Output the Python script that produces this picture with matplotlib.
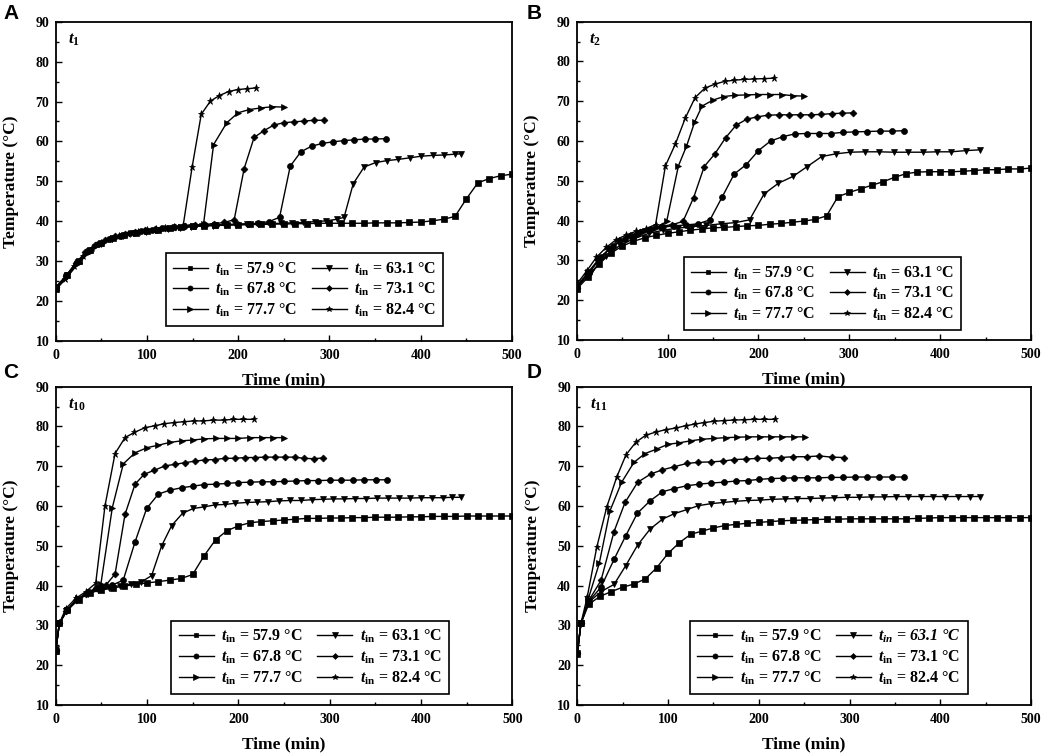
import numpy as np
import matplotlib.pyplot as plt

plt.rcParams['font.family'] = ['Liberation Serif', 'DejaVu Serif']
plt.rcParams['font.weight'] = 'bold'
plt.rcParams['axes.labelweight'] = 'bold'
plt.rcParams['mathtext.fontset'] = 'custom'
plt.rcParams['mathtext.rm'] = 'Liberation Serif:bold'
plt.rcParams['mathtext.bf'] = 'Liberation Serif:bold'
plt.rcParams['mathtext.it'] = 'Liberation Serif:italic:bold'

inlet_temps = [57.9, 63.1, 67.8, 73.1, 77.7, 82.4]
markers = ['s', 'v', 'o', 'D', '>', '*']
panel_letters = ['A', 'B', 'C', 'D']
point_names = ['1', '2', '10', '11']

time_125 = [0, 12.5, 25, 37.5, 50, 62.5, 75, 87.5, 100, 112.5, 125, 137.5, 150, 162.5,
            175, 187.5, 200, 212.5, 225, 237.5, 250, 262.5, 275, 287.5, 300, 312.5, 325,
            337.5, 350, 362.5, 375, 387.5, 400, 412.5, 425, 437.5, 450, 462.5, 475, 487.5, 500]
time_125_early = [0, 4, 12.5, 25, 37.5, 50, 62.5, 75, 87.5, 100, 112.5, 125, 137.5, 150, 162.5,
                  175, 187.5, 200, 212.5, 225, 237.5, 250, 262.5, 275, 287.5, 300, 312.5, 325,
                  337.5, 350, 362.5, 375, 387.5, 400, 412.5, 425, 437.5, 450, 462.5, 475, 487.5, 500]

# ---- A : t1 ----
a_time_579 = time_125
a_temp_579 = [23, 26.5, 30, 32.8, 34.6, 35.8, 36.5, 37.0, 37.5, 37.9, 38.2, 38.5, 38.7, 38.9,
              39.0, 39.1, 39.1, 39.2, 39.2, 39.3, 39.3, 39.4, 39.4, 39.5, 39.5, 39.5, 39.5, 39.5,
              39.6, 39.6, 39.6, 39.7, 39.8, 40.1, 40.5, 41.2, 45.6, 49.6, 50.7, 51.4, 51.8]
a_time_631 = [0, 12.3, 24.7, 37, 49.3, 61.7, 74, 86.3, 98.7, 111, 123.3, 135.7, 148, 160.3,
              172.7, 185, 197.3, 209.7, 222, 234.3, 246.7, 259, 271.3, 283.7, 296, 308.3, 316,
              326, 338, 350.5, 363, 375.5, 388, 400.5, 413, 425, 437, 444]
a_temp_631 = [23.2, 26.3, 29.8, 32.6, 34.4, 35.6, 36.4, 37.0, 37.4, 37.8, 38.1, 38.4, 38.6, 38.8,
              38.9, 39.0, 39.1, 39.2, 39.3, 39.4, 39.5, 39.6, 39.7, 39.9, 40.1, 40.5, 41.0,
              49.4, 53.6, 54.7, 55.2, 55.5, 55.9, 56.3, 56.5, 56.6, 56.8, 56.9]
a_time_678 = [0, 11.7, 23.4, 35, 46.7, 58.4, 70.1, 81.8, 93.4, 105.1, 116.8, 128.5, 140.2, 151.8,
              163.5, 175.2, 186.9, 198.6, 210.2, 221.9, 233.6, 245.3, 257, 268.6, 280.3, 292,
              303.7, 315.4, 327, 338.7, 350.4, 362]
a_temp_678 = [23.3, 26.5, 29.8, 32.5, 34.4, 35.6, 36.4, 37.0, 37.5, 37.9, 38.2, 38.5, 38.7, 38.9,
              39.0, 39.1, 39.2, 39.3, 39.4, 39.5, 39.9, 41.0, 53.8, 57.4, 58.8, 59.5, 59.9, 60.2,
              60.4, 60.6, 60.6, 60.7]
a_time_731 = [0, 10.9, 21.7, 32.6, 43.5, 54.4, 65.2, 76.1, 87, 97.8, 108.7, 119.6, 130.4, 141.3,
              152.2, 163, 173.9, 184.8, 195.6, 206.5, 217.4, 228.2, 239.1, 250, 260.9, 271.7,
              282.6, 293.5]
a_temp_731 = [23.5, 26.2, 29.5, 32.2, 34.0, 35.3, 36.2, 36.9, 37.4, 37.8, 38.1, 38.4, 38.6, 38.8,
              39.0, 39.2, 39.4, 39.7, 40.4, 53.2, 61.0, 62.7, 64.1, 64.7, 64.9, 65.1, 65.3, 65.3]
a_time_777 = [0, 12.5, 25, 37.5, 50, 62.5, 75, 87.5, 100, 112.5, 125, 137.5, 150, 162, 173,
              187.5, 200, 212.5, 225, 237.5, 250]
a_temp_777 = [22.8, 26.0, 29.5, 32.3, 34.2, 35.5, 36.4, 37.0, 37.5, 37.9, 38.3, 38.6, 38.8, 39.3,
              59.2, 64.7, 67.2, 68.0, 68.4, 68.7, 68.6]
a_time_824 = [0, 10, 19.9, 29.9, 39.9, 49.8, 59.8, 69.8, 79.7, 89.7, 99.7, 109.7, 119.6, 129.6,
              139.6, 149.5, 159.5, 169.5, 179.4, 189.4, 199.4, 209.3, 219.3]
a_temp_824 = [23, 25.5, 28.8, 31.3, 33.2, 34.6, 35.6, 36.3, 36.9, 37.3, 37.7, 38.0, 38.3, 38.5,
              38.8, 53.6, 66.8, 70.1, 71.5, 72.5, 73.0, 73.2, 73.4]

# ---- B : t2 ----
b_time_579 = time_125
b_temp_579 = [22.8, 25.8, 29.2, 31.8, 33.6, 34.8, 35.7, 36.3, 36.8, 37.2, 37.6, 37.9, 38.2, 38.3,
              38.5, 38.7, 38.8, 39.1, 39.3, 39.6, 39.9, 40.3, 41.2, 46.0, 47.1, 48.0, 48.9, 49.8,
              50.9, 51.8, 52.2, 52.3, 52.3, 52.3, 52.4, 52.6, 52.8, 52.8, 53.0, 53.0, 53.2]
b_time_631 = [0, 15.9, 31.7, 47.6, 63.4, 79.3, 95.2, 111, 126.9, 142.7, 158.6, 174.5, 190.3,
              206.2, 222, 237.9, 253.8, 269.6, 285.5, 301.3, 317.2, 333, 348.9, 364.8, 380.6,
              396.5, 412.3, 428.2, 444]
b_temp_631 = [23.5, 27.0, 31.0, 33.8, 35.5, 36.8, 37.6, 38.1, 38.5, 38.8, 39.2, 39.5, 40.2, 46.7,
              49.4, 51.1, 53.6, 56.1, 56.8, 57.2, 57.3, 57.3, 57.2, 57.2, 57.2, 57.3, 57.3, 57.6, 57.8]
b_time_678 = [0, 13.3, 26.7, 40, 53.3, 66.7, 80, 93.3, 106.7, 120, 133.3, 146.7, 160, 173.3,
              186.7, 200, 213.3, 226.7, 240, 253.3, 266.7, 280, 293.3, 306.7, 320, 333.3, 346.7, 360]
b_temp_678 = [23, 26.8, 30.8, 33.6, 35.4, 36.7, 37.6, 38.3, 38.7, 38.9, 39.2, 40.2, 45.9, 51.7,
              54.1, 57.6, 60.0, 61.1, 61.8, 61.9, 61.9, 61.9, 62.2, 62.3, 62.4, 62.5, 62.5, 62.6]
b_time_731 = [0, 11.7, 23.4, 35.1, 46.8, 58.5, 70.2, 81.9, 93.6, 105.3, 117, 128.7, 140.4, 152.1,
              163.8, 175.5, 187.2, 198.9, 210.6, 222.3, 234, 245.7, 257.4, 269.1, 280.8, 292.5, 304.2]
b_temp_731 = [23, 26.5, 30.0, 32.8, 34.8, 36.2, 37.2, 38.0, 38.6, 39.0, 39.8, 45.8, 53.6, 56.8,
              60.8, 64.0, 65.5, 66.1, 66.5, 66.6, 66.6, 66.6, 66.6, 66.7, 66.9, 67.0, 67.1]
b_time_777 = [0, 12.5, 25, 37.5, 50, 62.5, 75, 87.5, 99, 112, 121, 130, 138, 150, 162, 174,
              187, 199.6, 212.8, 225.6, 237.7, 250]
b_temp_777 = [23.5, 27, 30.5, 33.2, 35.2, 36.5, 37.4, 38.2, 39.8, 53.8, 58.8, 64.9, 68.8, 70.3,
              71.2, 71.5, 71.6, 71.7, 71.7, 71.7, 71.4, 71.3]
b_time_824 = [0, 10.85, 21.7, 32.6, 43.4, 54.3, 65.1, 76, 86.8, 97.7, 108.5, 119.4, 130.2, 141.1,
              151.9, 162.8, 173.6, 184.5, 195.3, 206.2, 217]
b_temp_824 = [24, 27.3, 30.8, 33.3, 35.2, 36.4, 37.3, 38.0, 39.0, 53.8, 59.2, 65.7, 70.9, 73.3,
              74.3, 75.0, 75.3, 75.5, 75.6, 75.7, 75.8]

# ---- C : t10 ----
c_time_579 = time_125_early
c_temp_579 = [23.5, 30.5, 33.8, 36.5, 38.2, 38.9, 39.4, 39.9, 40.3, 40.7, 41.0, 41.4, 41.8, 42.8,
              47.5, 51.5, 53.8, 55.0, 55.8, 56.1, 56.3, 56.5, 56.7, 56.9, 56.9, 57.0, 57.0, 57.1,
              57.1, 57.2, 57.2, 57.2, 57.3, 57.3, 57.4, 57.4, 57.4, 57.5, 57.5, 57.5, 57.5, 57.5]
c_time_631 = [0, 4, 11.7, 23.3, 35, 46.7, 58.5, 70, 82, 93.4, 105, 116, 127, 139, 150.7, 162.8,
              174.5, 185.4, 196.4, 209, 220, 232.8, 244.5, 256.6, 268.6, 280.3, 292.3, 304, 316,
              328, 340, 352, 364, 376, 388, 400, 412, 424, 434, 443.8]
c_temp_631 = [24, 30.5, 33.5, 36.3, 38, 38.9, 39.5, 40, 40.4, 40.9, 42.5, 50.0, 55.1, 58.2, 59.4,
              59.8, 60.3, 60.4, 60.7, 60.9, 61.0, 61.1, 61.3, 61.4, 61.4, 61.6, 61.7, 61.8, 61.8,
              61.9, 61.9, 62.0, 62.0, 62.0, 62.0, 62.1, 62.1, 62.1, 62.2, 62.2]
c_time_678 = [0, 4, 12.3, 24.6, 37, 49.3, 61.6, 74, 86.9, 99.6, 112.4, 125, 138, 150, 162.8,
              175.5, 188, 200, 212.8, 225.5, 238.3, 250.4, 262.8, 275, 287.6, 300.4, 312.4, 325.2,
              337.6, 350.4, 362.4]
c_temp_678 = [23.5, 30.5, 33.8, 36.6, 38.3, 39.4, 40.1, 41.4, 51.0, 59.4, 63.0, 64.0, 64.6, 65.0,
              65.4, 65.5, 65.7, 65.9, 66.0, 66.1, 66.1, 66.2, 66.3, 66.4, 66.4, 66.5, 66.5, 66.5,
              66.6, 66.6, 66.6]
c_time_731 = [0, 4, 11, 22, 32.9, 43.8, 54.8, 65, 75.9, 86.9, 97, 108, 119.7, 130.7, 141.6,
              152.6, 163.5, 174.5, 185.4, 196.4, 207.3, 218.2, 229, 240, 251, 261.5, 272,
              282.5, 293]
c_temp_731 = [23.8, 30.5, 33.5, 36.3, 38.0, 39.3, 40.1, 42.9, 57.9, 65.5, 68.0, 69.0, 70.1, 70.5,
              70.9, 71.3, 71.6, 71.7, 72.0, 72.0, 72.2, 72.2, 72.3, 72.3, 72.3, 72.3, 72.0, 71.9, 72.1]
c_time_777 = [0, 4, 12.3, 24.6, 37, 49.4, 62, 74, 86.9, 100.4, 112.4, 125, 138, 150, 162.8,
              175.5, 187.6, 200, 212.8, 225.5, 238.3, 250.4]
c_temp_777 = [23.3, 30.5, 33.8, 36.8, 38.4, 40.3, 59.6, 70.6, 73.4, 74.7, 75.3, 76.0, 76.4, 76.6,
              76.9, 77.0, 77.0, 77.0, 77.2, 77.2, 77.2, 77.2]
c_time_824 = [0, 4, 11, 22, 33, 43.8, 54, 65, 75.9, 86, 97.8, 108.8, 119, 130, 140.5, 151.5,
              161.7, 172.6, 184.3, 194.5, 205.5, 217]
c_temp_824 = [23.5, 30.5, 34.2, 36.8, 38.5, 40.6, 60.1, 73.2, 77.2, 78.5, 79.7, 80.2, 80.7, 81.0,
              81.2, 81.4, 81.4, 81.6, 81.6, 81.8, 81.8, 81.8]

# ---- D : t11 ----
d_time_579 = time_125_early
d_temp_579 = [22.8, 30.5, 35.3, 37.3, 38.5, 39.6, 40.4, 41.7, 44.5, 48.1, 50.8, 52.9, 53.7, 54.5,
              55.1, 55.4, 55.7, 55.9, 56.1, 56.3, 56.4, 56.5, 56.6, 56.7, 56.7, 56.8, 56.8, 56.8,
              56.8, 56.8, 56.8, 56.9, 57.0, 57.1, 57.1, 57.1, 57.1, 57.1, 57.1, 57.1, 57.1, 57.1]
d_time_631 = [0, 4, 12.5, 26.1, 40.5, 53.3, 66.5, 80.2, 93.8, 107, 120.6, 133.5, 147.1, 160.7,
              174.3, 187.9, 201.5, 215.1, 228.7, 242.3, 255.9, 269.5, 283.1, 296.7, 310.3, 323.9,
              337.5, 351.1, 364.7, 378.3, 391.9, 405.5, 419.1, 432.7, 443.8]
d_temp_631 = [23, 30.5, 35.8, 38.5, 40.3, 45.0, 50.2, 54.2, 56.7, 58.1, 59.1, 60.1, 60.6, 60.9,
              61.2, 61.4, 61.5, 61.7, 61.8, 61.9, 61.9, 62.0, 62.1, 62.2, 62.2, 62.3, 62.3, 62.4,
              62.4, 62.4, 62.4, 62.4, 62.4, 62.4, 62.4]
d_time_678 = [0, 4, 12.5, 26.1, 40.5, 53.3, 66.2, 80.2, 93.8, 107, 120.6, 134.2, 147.8, 161.6,
              174.9, 187.7, 199.9, 213, 226.3, 239.1, 252.8, 265.6, 279.2, 292.4, 306, 319.6,
              332.8, 346.4, 360]
d_temp_678 = [23, 30.5, 36, 39.6, 46.6, 52.5, 58.2, 61.3, 63.6, 64.4, 65.1, 65.5, 65.8, 66.0,
              66.3, 66.4, 66.7, 66.9, 67.0, 67.1, 67.1, 67.1, 67.2, 67.2, 67.3, 67.3, 67.3, 67.3, 67.3]
d_time_731 = [0, 4, 12.5, 26.1, 40.5, 52.6, 66.6, 81.3, 93.8, 107, 120.6, 133.5, 147, 161, 173,
              185.5, 198.4, 211.6, 224, 238, 252.8, 266.7, 280.3, 294]
d_temp_731 = [23, 30.5, 36.2, 41.3, 53.6, 60.9, 66.0, 68.1, 69.1, 69.9, 70.7, 71.0, 71.1, 71.3,
              71.7, 71.8, 72.0, 72.0, 72.2, 72.4, 72.4, 72.6, 72.3, 72.2]
d_time_777 = [0, 4, 12, 24.2, 36, 48.9, 62.5, 74.6, 87.4, 99.6, 112.4, 124.9, 137.8, 150.6,
              163.5, 175.6, 188.5, 201.3, 213.4, 226, 238.8, 251.3]
d_temp_777 = [23, 30.5, 36.6, 45.6, 58.8, 66.0, 71.0, 73.2, 74.3, 75.5, 75.9, 76.4, 76.8, 77.0,
              77.2, 77.3, 77.4, 77.4, 77.4, 77.4, 77.4, 77.4]
d_time_824 = [0, 4, 11, 21.4, 32.4, 43.3, 53.7, 64.4, 75.4, 86.5, 97.5, 108.5, 119.5, 129.8,
              139.6, 150.7, 161.7, 172.7, 183.7, 194.7, 205.8, 217.9]
d_temp_824 = [23, 30.5, 37.2, 49.6, 59.7, 67.2, 72.9, 76.0, 77.8, 78.6, 79.2, 79.6, 80.2, 80.6,
              81.0, 81.3, 81.5, 81.6, 81.7, 81.8, 81.8, 81.8]

panel_times = [
    [a_time_579, a_time_631, a_time_678, a_time_731, a_time_777, a_time_824],
    [b_time_579, b_time_631, b_time_678, b_time_731, b_time_777, b_time_824],
    [c_time_579, c_time_631, c_time_678, c_time_731, c_time_777, c_time_824],
    [d_time_579, d_time_631, d_time_678, d_time_731, d_time_777, d_time_824],
]
panel_temps = [
    [a_temp_579, a_temp_631, a_temp_678, a_temp_731, a_temp_777, a_temp_824],
    [b_temp_579, b_temp_631, b_temp_678, b_temp_731, b_temp_777, b_temp_824],
    [c_temp_579, c_temp_631, c_temp_678, c_temp_731, c_temp_777, c_temp_824],
    [d_temp_579, d_temp_631, d_temp_678, d_temp_731, d_temp_777, d_temp_824],
]

marker_sizes = {'s': 4, 'v': 4.8, 'o': 4.3, 'D': 3.5, '>': 4.8, '*': 5.2}

W, H = 1045, 754
fig = plt.figure(figsize=(W / 100, H / 100), dpi=100)

# axes boxes in pixels: left, top, right, bottom
boxes = [(55.7, 21.7, 512, 341), (576.7, 21.7, 1031, 340),
         (55.7, 386.7, 512.3, 705), (577.3, 386.7, 1031, 705)]
letter_pos = [(3, 4), (527, 4), (3, 363), (527, 363)]
legend_anchor = [(0.849, 0.047), (0.846, 0.031), (0.861, 0.035), (0.861, 0.035)]

for i in range(4):
    l, t, r, b = boxes[i]
    ax = fig.add_axes([l / W, 1 - b / H, (r - l) / W, (b - t) / H])
    lines = []
    for j in range(6):
        ln, = ax.plot(panel_times[i][j], panel_temps[i][j], color='black', lw=1.0,
                      marker=markers[j], markersize=marker_sizes[markers[j]],
                      markerfacecolor='black', markeredgecolor='black', markeredgewidth=0.5)
        lines.append(ln)

    ax.set_xlim(0, 500)
    ax.set_ylim(10, 90)
    ax.set_xticks(np.arange(0, 501, 100))
    ax.set_yticks(np.arange(10, 91, 10))
    ax.set_xticks(np.arange(50, 500, 100), minor=True)
    ax.set_yticks(np.arange(15, 90, 10), minor=True)
    ax.tick_params(which='both', direction='in', top=False, right=False, width=1.0)
    ax.tick_params(which='major', length=4, labelsize=10)
    ax.tick_params(which='minor', length=2.5)
    ax.tick_params(axis='x', pad=5.5)
    ax.tick_params(axis='y', pad=4.5)
    for sp in ax.spines.values():
        sp.set_linewidth(1.3)
    ax.set_xlabel('Time (min)', fontsize=12.5, labelpad=8)
    ax.set_ylabel('Temperature (\u00b0C)', fontsize=12.5, labelpad=12)

    ax.text(0.027, 0.97, r'$t_{' + point_names[i] + '}$', transform=ax.transAxes,
            fontsize=12, va='top', ha='left')

    order = [0, 2, 4, 1, 3, 5]
    labels = []
    for j in order:
        if i == 3 and j == 1:
            labels.append(r'$t_{in}$ = ' + f'{inlet_temps[j]} \u00b0C')
        else:
            labels.append(r'$t_{\mathrm{in}}$ = ' + f'{inlet_temps[j]} \u00b0C')
    leg = ax.legend([lines[j] for j in order], labels, ncol=2, loc='lower right',
                    bbox_to_anchor=legend_anchor[i], borderaxespad=0, fontsize=11.5,
                    frameon=True, fancybox=False, edgecolor='black', framealpha=1,
                    handlelength=2.2, handletextpad=0.45, columnspacing=0.9,
                    labelspacing=0.2, borderpad=0.45, markerscale=0.85)
    leg.get_frame().set_linewidth(1.2)
    if i == 3:
        leg.get_texts()[3].set_fontstyle('italic')

    fig.text(letter_pos[i][0] / W, 1 - letter_pos[i][1] / H, panel_letters[i],
             family=['Liberation Sans', 'DejaVu Sans'], fontsize=15, fontweight='bold',
             va='top', ha='left')

fig.savefig('out.png', dpi=100)
